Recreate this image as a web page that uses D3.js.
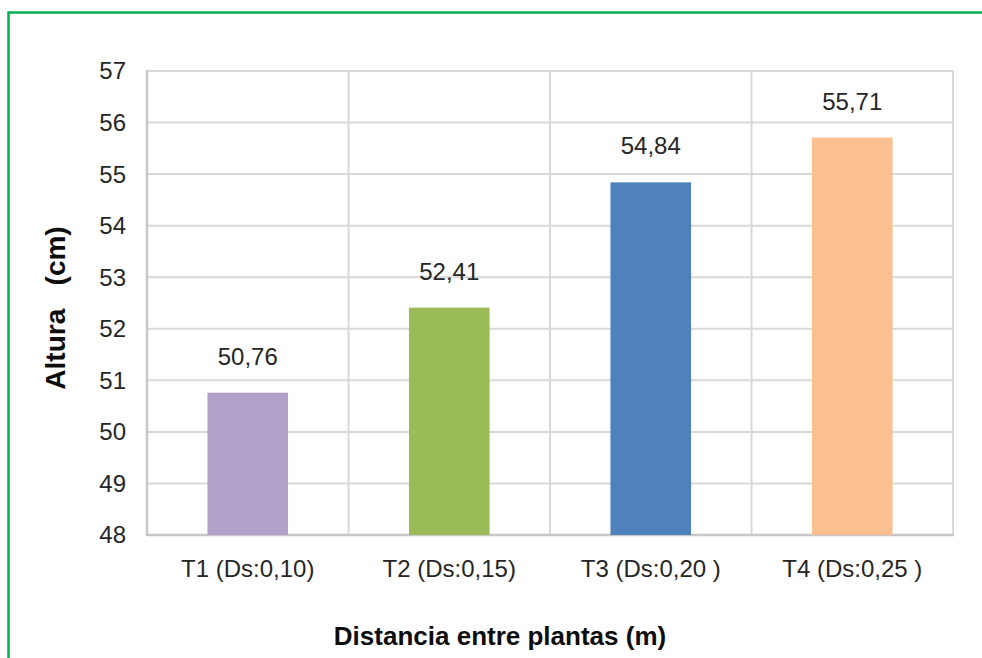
<!DOCTYPE html>
<html><head><meta charset="utf-8">
<script src="https://cdn.jsdelivr.net/npm/d3@7"></script>
<style>body{margin:0;background:#fff;font-family:"Liberation Sans",Arial,sans-serif}</style>
</head><body>
<svg id="c" width="982" height="658"></svg>
<script>
const categories = ["T1 (Ds:0,10)", "T2 (Ds:0,15)", "T3 (Ds:0,20 )", "T4 (Ds:0,25 )"];
const values = [50.76, 52.41, 54.84, 55.71];
const valueLabels = ["50,76", "52,41", "54,84", "55,71"];
const colors = ["#b1a0c7", "#9bbb59", "#4f81bd", "#fac090"];
const yTicks = [48, 49, 50, 51, 52, 53, 54, 55, 56, 57];
const xTitle = "Distancia entre plantas (m)";
const yTitle = "Altura   (cm)";

const svg = d3.select("#c");
const L = 147, R = 953, T = 71, B = 535;
const x = d3.scaleBand().domain(categories).range([L, R]).paddingInner(0.6).paddingOuter(0.3);
const xb = d3.scaleBand().domain(categories).range([L, R]);
const y = d3.scaleLinear().domain([48, 57]).range([B, T]);

// outer green border
svg.append("rect").attr("x", 8.5).attr("y", 12.5).attr("width", 990).attr("height", 660)
  .attr("fill", "none").attr("stroke", "#00b050").attr("stroke-width", 2.5);

const grid = svg.append("g");
grid.selectAll("line.h").data(yTicks).join("line")
  .attr("x1", L).attr("x2", R).attr("y1", d => y(d)).attr("y2", d => y(d))
  .attr("stroke", "#d9d9d9").attr("stroke-width", 2);
const bounds = categories.map(c => xb(c)).concat([R]);
grid.selectAll("line.v").data(bounds).join("line")
  .attr("x1", d => d).attr("x2", d => d).attr("y1", T).attr("y2", B)
  .attr("stroke", "#d9d9d9").attr("stroke-width", 2);
// axes lines
svg.append("line").attr("x1", L).attr("x2", L).attr("y1", T - 1).attr("y2", B + 1)
  .attr("stroke", "#c8c8c8").attr("stroke-width", 2.5);
svg.append("line").attr("x1", L).attr("x2", R + 1).attr("y1", B).attr("y2", B)
  .attr("stroke", "#c8c8c8").attr("stroke-width", 2.5);

svg.append("g").selectAll("rect").data(values).join("rect")
  .attr("x", (d, i) => x(categories[i])).attr("width", x.bandwidth())
  .attr("y", d => y(d)).attr("height", d => B - y(d))
  .attr("fill", (d, i) => colors[i]);

svg.append("g").selectAll("text").data(values).join("text")
  .attr("x", (d, i) => x(categories[i]) + x.bandwidth() / 2)
  .attr("y", d => y(d) - 28)
  .attr("text-anchor", "middle").attr("font-size", 24).attr("fill", "#262626")
  .text((d, i) => valueLabels[i]);

// y tick labels
svg.append("g").selectAll("text").data(yTicks).join("text")
  .attr("x", 126).attr("y", d => y(d)).attr("dy", "0.35em")
  .attr("text-anchor", "end").attr("font-size", 24).attr("fill", "#262626")
  .text(d => d);

// x tick labels
svg.append("g").selectAll("text").data(categories).join("text")
  .attr("x", d => xb(d) + xb.bandwidth() / 2).attr("y", 577)
  .attr("text-anchor", "middle").attr("font-size", 24).attr("fill", "#262626")
  .text(d => d);

svg.append("text").attr("x", 500).attr("y", 645)
  .attr("text-anchor", "middle").attr("font-size", 26).attr("font-weight", "bold").attr("fill", "#0d0d0d")
  .text(xTitle);

svg.append("text").attr("transform", `translate(65,${(T + B) / 2 + 5}) rotate(-90)`)
  .attr("text-anchor", "middle").attr("font-size", 28).attr("font-weight", "bold").attr("fill", "#0d0d0d")
  .style("white-space", "pre")
  .text(yTitle);
</script>
</body></html>
